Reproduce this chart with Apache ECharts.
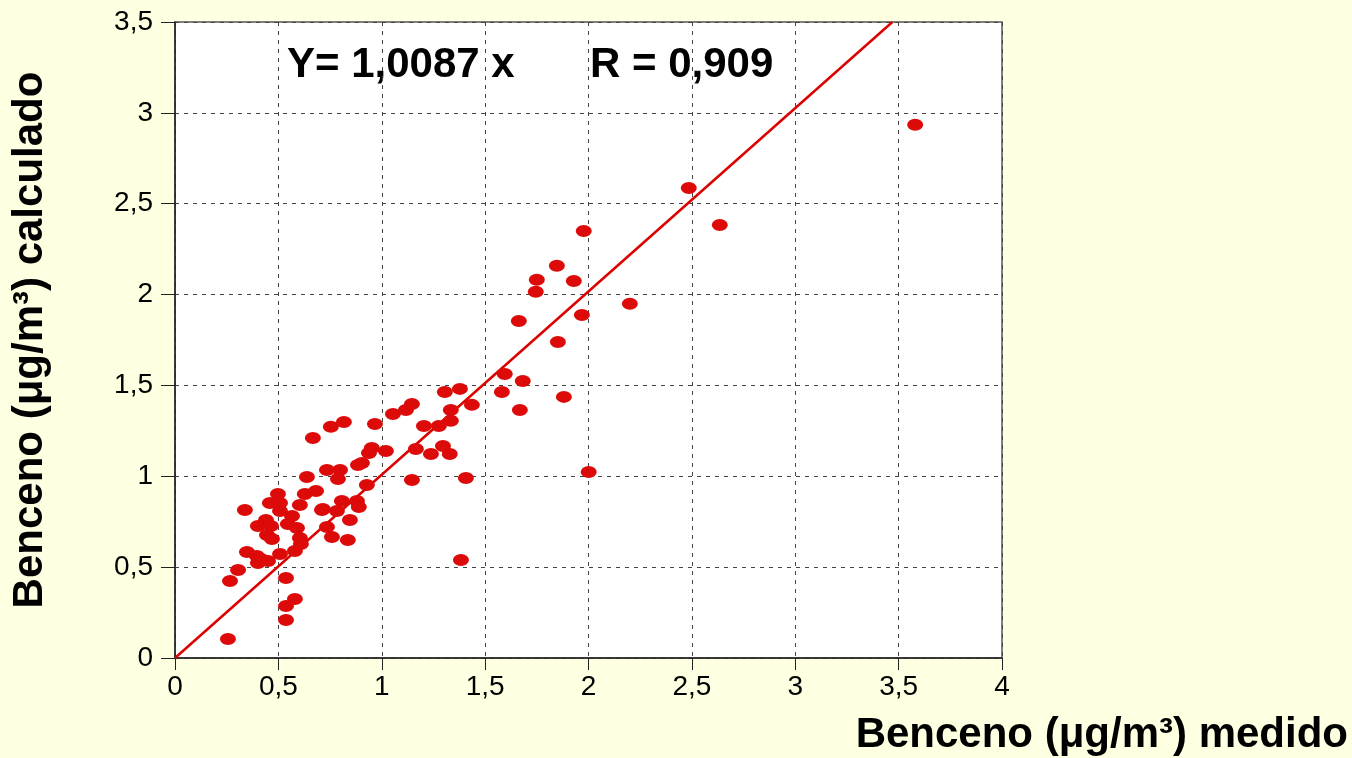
<!DOCTYPE html>
<html>
<head>
<meta charset="utf-8">
<script src="https://cdn.jsdelivr.net/npm/echarts@6/dist/echarts.min.js"></script>
<style>
  html, body { margin: 0; padding: 0; background: #FFFFE1; }
  #chart { width: 1352px; height: 758px; }
</style>
</head>
<body>
<div id="chart"></div>
<script>
// medido (x) vs calculado (y)
const medido = [
  3.58, 2.485, 2.635, 1.977, 1.847, 1.750, 1.929, 1.745, 2.200, 1.968,
  1.663, 1.852, 1.595, 1.682, 1.581, 1.881, 1.668, 2.001,
  0.256, 0.266, 0.305, 0.348, 0.396, 0.416, 0.401, 0.450, 0.508, 0.580,
  0.338, 0.498, 0.459, 0.508, 0.508, 0.566, 0.440, 0.401, 0.464, 0.445,
  0.469, 0.546, 0.590, 0.604, 0.609, 0.537, 0.580, 0.537, 0.537, 0.628,
  0.682, 0.638, 0.604, 0.711,
  0.667, 0.754, 0.817, 0.967, 1.054, 1.117, 1.146, 1.334, 1.378, 1.305,
  1.436, 1.334, 1.276, 1.204, 1.296, 1.329, 1.238, 1.165, 0.952, 0.938,
  1.020, 0.904, 0.885, 0.798, 0.735, 0.788, 0.928, 0.807, 0.880, 0.889,
  0.715, 0.783, 0.846, 0.735, 0.759, 0.836, 1.146, 1.407, 1.383
];
const calculado = [
  2.934, 2.587, 2.383, 2.350, 2.158, 2.081, 2.075, 2.015, 1.949, 1.888,
  1.855, 1.739, 1.563, 1.525, 1.464, 1.437, 1.365, 1.024,
  0.105, 0.424, 0.484, 0.583, 0.561, 0.545, 0.523, 0.534, 0.572, 0.589,
  0.815, 0.903, 0.853, 0.853, 0.809, 0.782, 0.760, 0.727, 0.727, 0.677,
  0.655, 0.738, 0.716, 0.661, 0.628, 0.440, 0.325, 0.286, 0.209, 0.903,
  0.919, 0.996, 0.842, 0.815,
  1.211, 1.272, 1.299, 1.288, 1.343, 1.365, 1.398, 1.365, 1.481, 1.464,
  1.393, 1.305, 1.277, 1.277, 1.167, 1.123, 1.123, 1.150, 1.156, 1.128,
  1.139, 1.073, 1.062, 1.035, 1.035, 0.985, 0.952, 0.864, 0.864, 0.831,
  0.820, 0.809, 0.760, 0.721, 0.666, 0.650, 0.980, 0.991, 0.539
];
const slope = 1.0087;
const rValue = '0,909';
const xTicks = [0, 0.5, 1, 1.5, 2, 2.5, 3, 3.5, 4];
const yTicks = [0, 0.5, 1, 1.5, 2, 2.5, 3, 3.5];

const points = medido.map((x, i) => [x, calculado[i]]);
const yMax = yTicks[yTicks.length - 1];
const fitLine = [[0, 0], [yMax / slope, yMax]];
const comma = v => String(v).replace('.', ',');
const FONT = 'Liberation Sans, Arial, sans-serif';

const chart = echarts.init(document.getElementById('chart'));
chart.setOption({
  backgroundColor: '#FFFFE1',
  animation: false,
  textStyle: { fontFamily: FONT },
  grid: {
    left: 175, top: 22, right: 350, bottom: 100,
    outerBoundsMode: 'none',
    show: true, backgroundColor: '#ffffff',
    borderColor: '#555', borderWidth: 1.5
  },
  xAxis: {
    type: 'value', min: xTicks[0], max: xTicks[xTicks.length - 1], interval: 0.5,
    axisLine: { lineStyle: { color: '#222', width: 1.5 } },
    axisTick: { show: true, length: 12, lineStyle: { color: '#222' } },
    axisLabel: { color: '#000', fontSize: 28, margin: 15, formatter: comma },
    splitLine: { show: true, lineStyle: { color: '#444', type: [4, 5], width: 1 } }
  },
  yAxis: {
    type: 'value', min: yTicks[0], max: yMax, interval: 0.5,
    axisLine: { show: true, lineStyle: { color: '#222', width: 1.5 } },
    axisTick: { show: true, length: 14, lineStyle: { color: '#222' } },
    axisLabel: { color: '#000', fontSize: 28, margin: 22, formatter: comma },
    splitLine: { show: true, lineStyle: { color: '#444', type: [4, 5], width: 1 } },
    name: 'Benceno (μg/m³) calculado',
    nameLocation: 'middle',
    nameGap: 124,
    nameTextStyle: { color: '#000', fontSize: 42, fontWeight: 'bold' }
  },
  graphic: [
    {
      type: 'text', right: 4, top: 714,
      style: { text: 'Benceno (μg/m³) medido', fill: '#000',
               font: 'bold 42px ' + FONT }
    },
    {
      type: 'text', left: 287, top: 44,
      style: { text: 'Y= ' + comma(slope) + ' x', fill: '#000',
               font: 'bold 42px ' + FONT }
    },
    {
      type: 'text', left: 590, top: 44,
      style: { text: 'R = ' + rValue, fill: '#000',
               font: 'bold 42px ' + FONT }
    }
  ],
  series: [
    {
      type: 'line', data: fitLine, symbol: 'none',
      lineStyle: { color: '#DD0000', width: 2.5 }, z: 2
    },
    {
      type: 'scatter', data: points, symbol: 'circle', symbolSize: [16, 12],
      itemStyle: { color: '#DD0A0A', opacity: 1 }, z: 3
    }
  ]
});
</script>
</body>
</html>
